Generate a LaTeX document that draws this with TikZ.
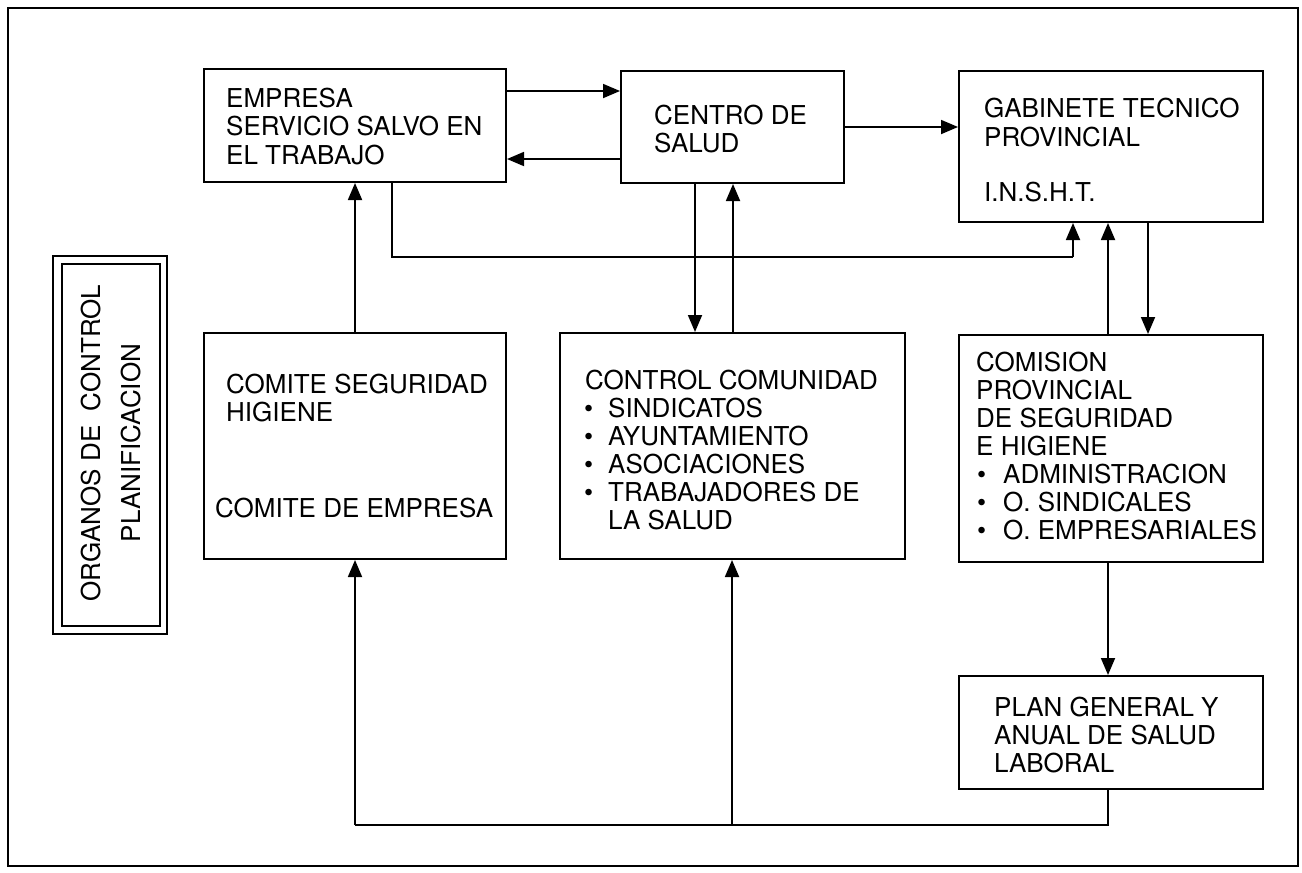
\documentclass[tikz,border=0pt]{standalone}
\usepackage{fontspec}
\setmainfont{TeX Gyre Heros}
\usetikzlibrary{arrows.meta}
\begin{document}
\begin{tikzpicture}[x=1pt,y=-1pt,
  box/.style={draw, line width=2pt, inner sep=0pt, anchor=north west},
  txt/.style={anchor=base west, inner sep=0pt, font=\fontsize{26}{28}\selectfont},
  ln/.style={line width=1.8pt},
  arr/.style={line width=1.8pt, -{Triangle[length=17pt,width=14pt]}}]
\useasboundingbox (0,0) rectangle (1302,873);
\draw[line width=2pt] (8,8) rectangle (1298,866);
% boxes
\node[box, minimum width=302pt, minimum height=113pt] (emp) at (203,68) {};
\node[box, minimum width=223pt, minimum height=112pt] (cen) at (620,70) {};
\node[box, minimum width=304pt, minimum height=151pt] (gab) at (958,70) {};
\node[box, minimum width=302pt, minimum height=226pt] (com) at (203,332) {};
\node[box, minimum width=345pt, minimum height=226pt] (ctl) at (559,332) {};
\node[box, minimum width=304pt, minimum height=227pt] (cms) at (958,334) {};
\node[box, minimum width=304pt, minimum height=113pt] (pln) at (958,675) {};
\node[box, line width=1.6pt, minimum width=114pt, minimum height=378pt] (orgo) at (52,255) {};
\node[box, line width=1.6pt, minimum width=98pt, minimum height=362pt] (orgi) at (61,263) {};
% texts
\node[rotate=90, align=center, inner sep=0pt, font=\fontsize{26}{40}\selectfont] (orgt) at (111,443) {ORGANOS DE\ \ CONTROL\\PLANIFICACION};
\foreach \t [count=\i] in {EMPRESA, SERVICIO SALVO EN, EL TRABAJO}
  \node[txt] (empt\i) at (226,{107+28.5*(\i-1)}) {\t};
\foreach \t [count=\i] in {CENTRO DE, SALUD}
  \node[txt] (cent\i) at (654,{124+28.5*(\i-1)}) {\t};
\node[txt] (gabt1) at (984,117) {GABINETE TECNICO};
\node[txt] (gabt2) at (984,146) {PROVINCIAL};
\node[txt] (gabt3) at (984,201) {I.N.S.H.T.};
\node[txt] (comt1) at (226,393) {COMITE SEGURIDAD};
\node[txt] (comt2) at (226,421) {HIGIENE};
\node[txt] (comt3) at (215,517) {COMITE DE EMPRESA};
\node[txt] (ctlt0) at (585,389) {CONTROL COMUNIDAD};
\foreach \t [count=\i] in {SINDICATOS, AYUNTAMIENTO, ASOCIACIONES, TRABAJADORES DE}
  \node[txt] (ctlt\i) at (584,{417+28*(\i-1)}) {\makebox[24pt][l]{\textbullet}\t};
\node[txt] (ctlt5) at (608,529) {LA SALUD};
\foreach \t [count=\i] in {COMISION, PROVINCIAL, DE SEGURIDAD, E HIGIENE}
  \node[txt] (cmst\i) at (976,{371+28*(\i-1)}) {\t};
\foreach \t [count=\i] in {ADMINISTRACION, O. SINDICALES, O. EMPRESARIALES}
  \node[txt] (cmsb\i) at (977,{483+28*(\i-1)}) {\makebox[26pt][l]{\textbullet}\t};
\foreach \t [count=\i] in {PLAN GENERAL Y, ANUAL DE SALUD, LABORAL}
  \node[txt] (plnt\i) at (994,{716+28*(\i-1)}) {\t};
% connectors
\coordinate (j1) at (1073,257);
\coordinate (j2) at (1108,825);
\draw[arr] (emp.east |- 0,91) -- (cen.west |- 0,91);
\draw[arr] (cen.west |- 0,159) -- (emp.east |- 0,159);
\draw[arr] (cen.east |- 0,127) -- (gab.west |- 0,127);
\draw[arr] (com.north -| 355,0) -- (emp.south -| 355,0);
\draw[ln] (emp.south -| 392,0) |- (j1);
\draw[arr] (j1) -- (gab.south -| j1);
\draw[arr] (cen.south -| 695,0) -- (ctl.north -| 695,0);
\draw[arr] (ctl.north -| 733,0) -- (cen.south -| 733,0);
\draw[arr] (cms.north -| 1108,0) -- (gab.south -| 1108,0);
\draw[arr] (gab.south -| 1148,0) -- (cms.north -| 1148,0);
\draw[arr] (cms.south -| 1108,0) -- (pln.north -| 1108,0);
\draw[ln] (pln.south -| j2) -- (j2) -- (com.south |- j2);
\draw[arr] (com.south |- j2) -- (com.south);
\draw[arr] (j2 -| 732,0) -- (ctl.south -| 732,0);
\end{tikzpicture}
\end{document}
